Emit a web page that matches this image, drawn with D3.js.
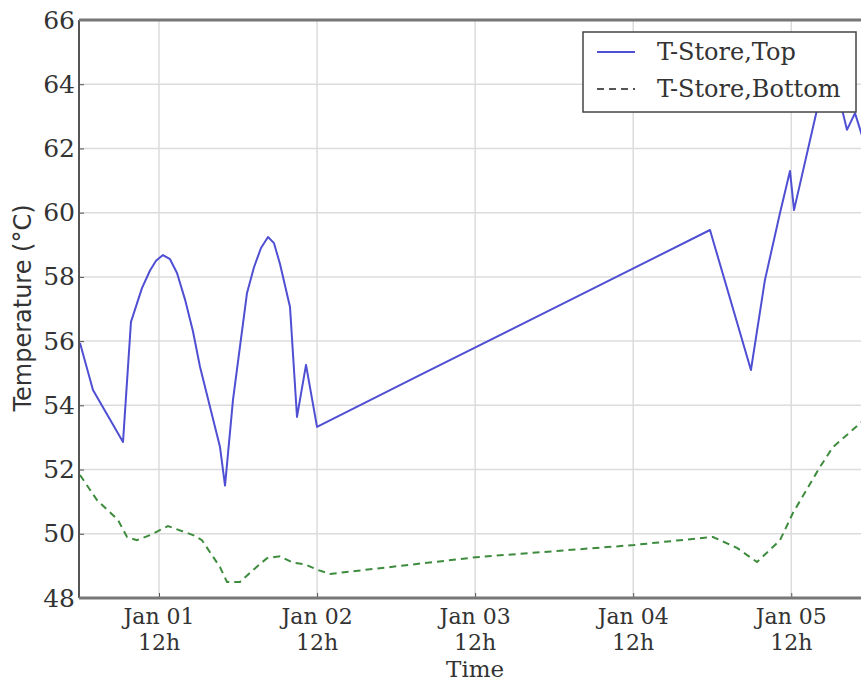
<!DOCTYPE html>
<html>
<head>
<meta charset="utf-8">
<script src="https://cdn.jsdelivr.net/npm/d3@7"></script>
<style>
  body { margin: 0; background: #fff; }
  svg { display: block; }
</style>
</head>
<body>
<svg width="861" height="682"></svg>
<script>
// data: hours since Jan 01 00:00, temperatures in degC
var topHours = [0, 1.97, 6.53, 7.74, 9.41, 10.63, 11.54, 12.6, 13.67, 14.73, 15.94, 17.16, 18.22, 21.26, 22.02, 23.23, 25.36, 26.42, 27.48, 28.55, 29.46, 30.37, 31.89, 32.95, 34.32, 35.99, 51.6, 72.88, 95.66, 101.88, 104.0, 106.29, 107.81, 108.42, 111.9, 113.88, 115.85, 116.46, 117.68, 119.35];
var topValues = [55.94, 54.48, 52.86, 56.6, 57.65, 58.2, 58.5, 58.68, 58.55, 58.12, 57.3, 56.3, 55.2, 52.7, 51.5, 54.17, 57.5, 58.3, 58.9, 59.24, 59.05, 58.4, 57.06, 53.64, 55.26, 53.33, 54.94, 57.12, 59.46, 55.1, 57.9, 59.99, 61.3, 60.08, 63.2, 64.3, 63.1, 62.58, 63.1, 62.0];

var bottomHours = [0, 2.58, 5.77, 7.14, 8.65, 10.63, 13.36, 17.16, 18.52, 21.26, 22.32, 24.29, 26.27, 28.39, 30.37, 32.34, 34.16, 36.14, 37.96, 60.13, 84.12, 91.1, 96.11, 99.76, 102.8, 106.29, 108.26, 112.36, 114.33, 119.35];
var bottomValues = [51.83, 51.05, 50.43, 49.9, 49.8, 49.96, 50.24, 49.96, 49.8, 48.96, 48.5, 48.5, 48.87, 49.24, 49.3, 49.1, 49.05, 48.87, 48.75, 49.27, 49.65, 49.8, 49.9, 49.56, 49.12, 49.8, 50.65, 52.08, 52.7, 53.6];

var tickHours = [12, 36, 60, 84, 108];
var tickDays = ['Jan 01', 'Jan 02', 'Jan 03', 'Jan 04', 'Jan 05'];
var yTicks = [48, 50, 52, 54, 56, 58, 60, 62, 64, 66];
var seriesNames = ['T-Store,Top', 'T-Store,Bottom'];

var t0 = Date.UTC(2013, 0, 1);
function toDate(h) { return new Date(t0 + h * 3600e3); }

// plot box (window.top is reserved, so no "top" here)
var x0 = 79, x1 = 866, y0 = 20, y1 = 598;

var x = d3.scaleUtc()
    .domain([toDate(0), toDate(119.35)])
    .range([x0 + 1, x1]);

var y = d3.scaleLinear()
    .domain([48, 66])
    .range([y1, y0]);

var svg = d3.select('svg');

svg.append('defs').append('clipPath')
    .attr('id', 'plot')
    .append('rect')
    .attr('x', x0)
    .attr('y', y0)
    .attr('width', x1 - x0)
    .attr('height', y1 - y0);

// grid
var grid = svg.append('g');
grid.selectAll('.hg')
    .data(yTicks)
    .enter()
    .append('line')
    .attr('x1', x0)
    .attr('x2', x1)
    .attr('y1', function(d) { return y(d); })
    .attr('y2', function(d) { return y(d); })
    .style('stroke', '#dcdcdc')
    .style('stroke-width', 1.5);

grid.selectAll('.vg')
    .data(tickHours)
    .enter()
    .append('line')
    .attr('x1', function(d) { return x(toDate(d)); })
    .attr('x2', function(d) { return x(toDate(d)); })
    .attr('y1', y0)
    .attr('y2', y1)
    .style('stroke', '#dcdcdc')
    .style('stroke-width', 1.5);

// lines
var line = d3.line()
    .x(function(d) { return x(toDate(d[0])); })
    .y(function(d) { return y(d[1]); });

var plot = svg.append('g').attr('clip-path', 'url(#plot)');

plot.append('path')
    .datum(d3.zip(bottomHours, bottomValues))
    .attr('d', line)
    .style('fill', 'none')
    .style('stroke', '#3d8c3d')
    .style('stroke-width', 2)
    .style('stroke-dasharray', '7,5');

plot.append('path')
    .datum(d3.zip(topHours, topValues))
    .attr('d', line)
    .style('fill', 'none')
    .style('stroke', '#4f4fd4')
    .style('stroke-width', 2)
    .style('stroke-linejoin', 'round');

// axes
var yAxis = d3.axisLeft(y)
    .tickValues(yTicks)
    .tickSize(-5)
    .tickPadding(4);

svg.append('g')
    .attr('transform', 'translate(' + x0 + ',0)')
    .call(yAxis)
    .call(function(g) {
        g.select('.domain').remove();
        g.selectAll('text')
            .style('font-family', 'DejaVu Serif')
            .style('font-size', '25px')
            .style('fill', '#333');
        g.selectAll('line').style('stroke', '#555');
    });

var xAxis = d3.axisBottom(x)
    .tickValues(tickHours.map(toDate))
    .tickSize(-5)
    .tickFormat('');

svg.append('g')
    .attr('transform', 'translate(0,' + y1 + ')')
    .call(xAxis)
    .call(function(g) {
        g.select('.domain').remove();
        g.selectAll('line').style('stroke', '#555');
    });

var xLabels = svg.append('g')
    .style('font-family', 'DejaVu Serif')
    .style('font-size', '22px')
    .style('fill', '#333')
    .attr('text-anchor', 'middle');

tickHours.forEach(function(h, i) {
    xLabels.append('text')
        .attr('x', x(toDate(h)))
        .attr('y', 624)
        .text(tickDays[i]);
    xLabels.append('text')
        .attr('x', x(toDate(h)))
        .attr('y', 650)
        .text('12h');
});

// frame
svg.append('line')
    .attr('x1', x0).attr('y1', y0)
    .attr('x2', x0).attr('y2', y1)
    .style('stroke', '#555').style('stroke-width', 2);
svg.append('line')
    .attr('x1', x0).attr('y1', y1)
    .attr('x2', 861).attr('y2', y1)
    .style('stroke', '#777').style('stroke-width', 3);
svg.append('line')
    .attr('x1', x0).attr('y1', y0)
    .attr('x2', 861).attr('y2', y0)
    .style('stroke', '#777').style('stroke-width', 3);

// titles
svg.append('text')
    .attr('x', x(toDate(60)))
    .attr('y', 677)
    .attr('text-anchor', 'middle')
    .style('font-family', 'DejaVu Serif')
    .style('font-size', '23px')
    .style('fill', '#333')
    .text('Time');

svg.append('text')
    .attr('transform', 'translate(31,308) rotate(-90)')
    .attr('text-anchor', 'middle')
    .style('font-family', 'DejaVu Sans')
    .style('font-size', '24px')
    .style('fill', '#333')
    .text('Temperature (°C)');

// legend
var legend = svg.append('g');
legend.append('rect')
    .attr('x', 583)
    .attr('y', 32)
    .attr('width', 273)
    .attr('height', 80)
    .style('fill', '#fff')
    .style('stroke', '#444')
    .style('stroke-width', 1.5);

var legendStyles = [
    { color: '#4f4fd4', dash: null },
    { color: '#555', dash: '7,5' }
];

seriesNames.forEach(function(name, i) {
    var ly = 52 + i * 37;
    legend.append('line')
        .attr('x1', 597).attr('x2', 635)
        .attr('y1', ly).attr('y2', ly)
        .style('stroke', legendStyles[i].color)
        .style('stroke-width', 2)
        .style('stroke-dasharray', legendStyles[i].dash);
    legend.append('text')
        .attr('x', 657)
        .attr('y', ly + 8)
        .style('font-family', 'DejaVu Serif')
        .style('font-size', '24px')
        .style('fill', '#333')
        .text(name);
});
</script>
</body>
</html>
